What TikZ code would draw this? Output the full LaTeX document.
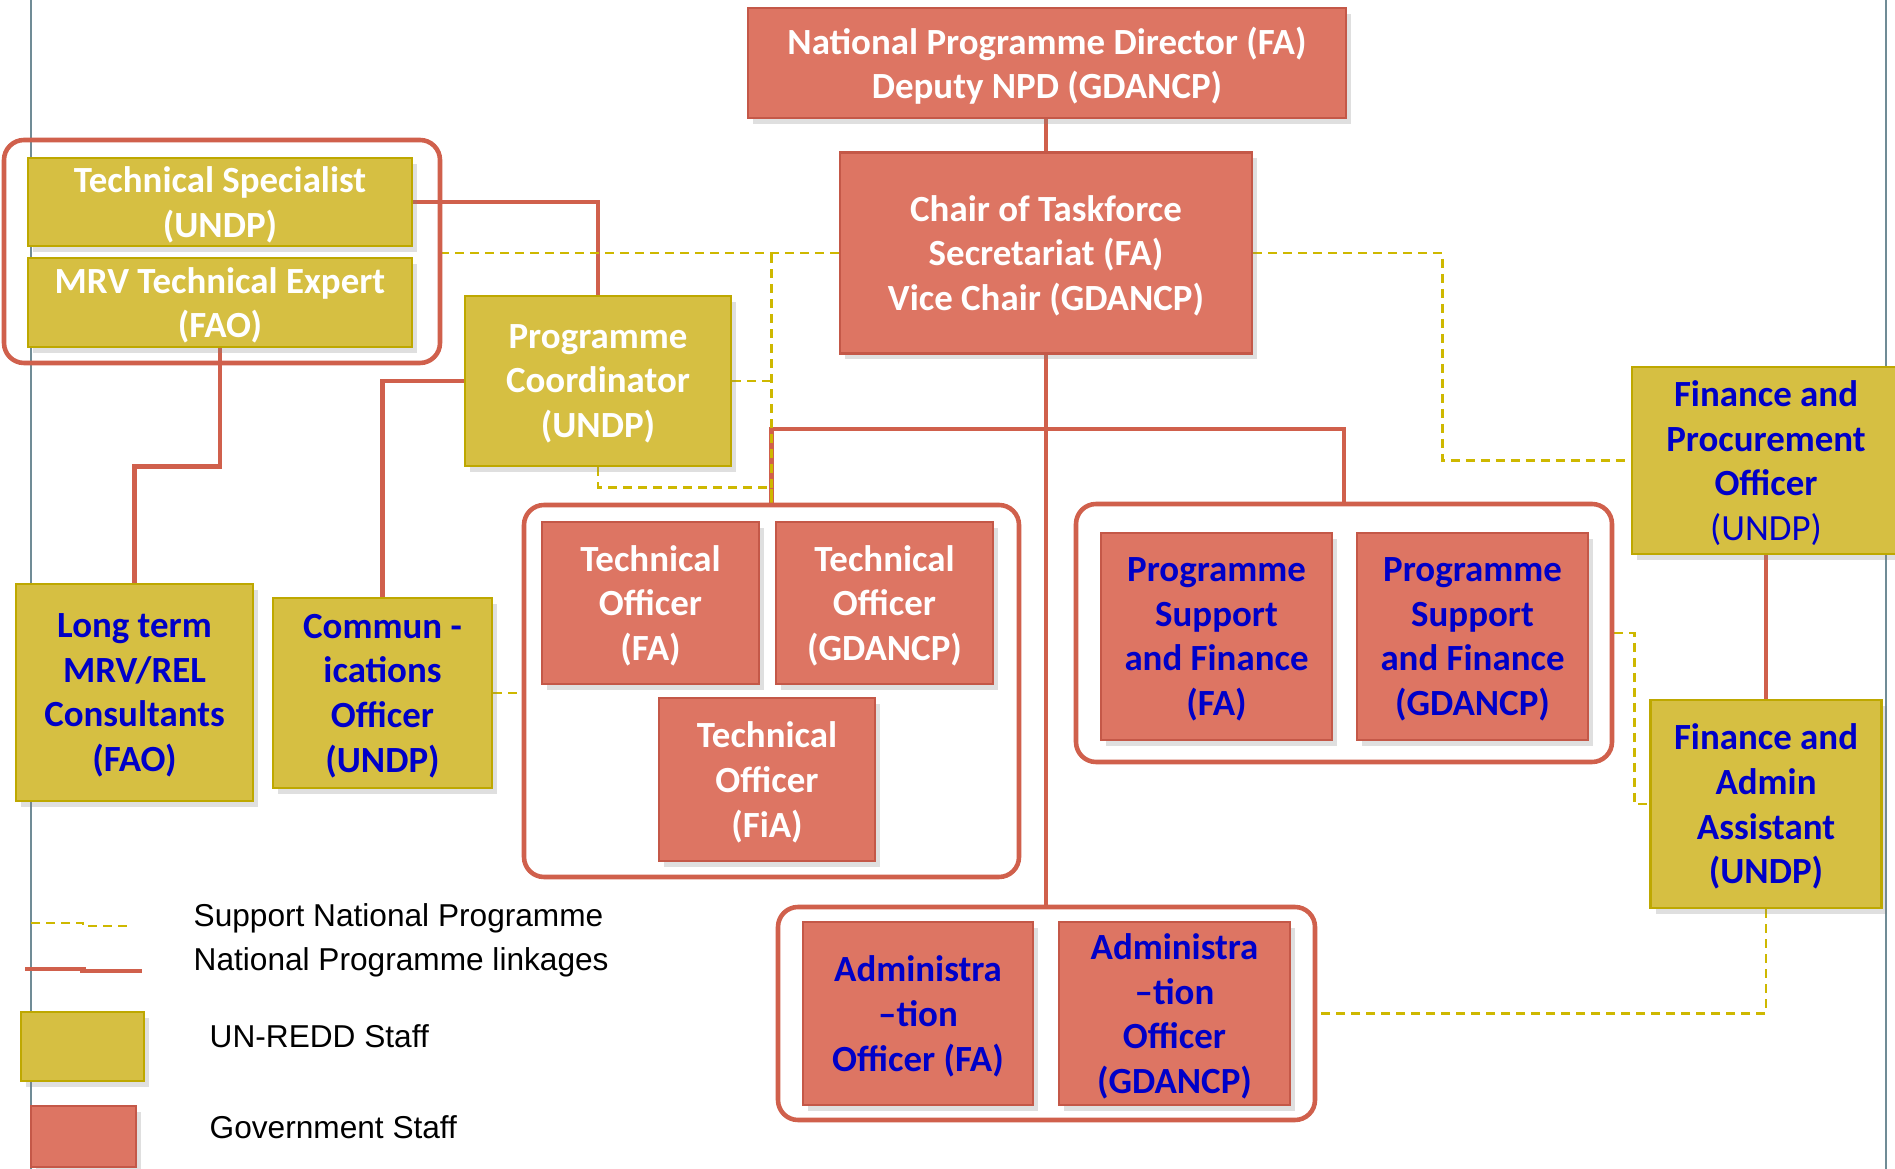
\documentclass[tikz,border=0pt]{standalone}
\usepackage{fontspec}
\setmainfont{Carlito}
\newfontfamily\legendfont{Liberation Sans}
\usetikzlibrary{positioning, shadows, backgrounds}
\definecolor{govfill}{RGB}{221,117,99}
\definecolor{govdraw}{RGB}{196,88,72}
\definecolor{unfill}{RGB}{214,191,66}
\definecolor{undraw}{RGB}{190,168,0}
\definecolor{linkred}{RGB}{208,96,76}
\definecolor{supyel}{RGB}{206,184,0}
\definecolor{txtblue}{RGB}{0,0,200}
\definecolor{slate}{RGB}{112,140,150}

\begin{document}
\begin{tikzpicture}[x=0.1mm, y=-0.1mm, node distance=23.4mm, on grid,
    box/.style={line width=0.8pt, align=center, inner sep=0pt, text=white,
      font=\fontsize{10.5}{12.7}\selectfont\bfseries, text depth=0pt,
      drop shadow={shadow xshift=0.5mm, shadow yshift=-0.6mm, opacity=0.25}},
    gov/.style={box, draw=govdraw, fill=govfill},
    un/.style={box, draw=undraw, fill=unfill},
    bluetxt/.style={text=txtblue},
    grp/.style={draw=linkred, line width=1.3pt, rounded corners=2mm, inner sep=0pt},
    link/.style={draw=linkred, line width=1.4pt},
    support/.style={draw=supyel, line width=0.7pt, dash pattern=on 0.9mm off 0.6mm},
    keytxt/.style={anchor=west, inner sep=0pt, font=\legendfont\fontsize{9}{11}\selectfont}]
  \useasboundingbox (0,0) rectangle (1895,1169);

  \node[gov, minimum width=59.8mm, minimum height=11mm] (npd) at (1047,63)
    {National Programme Director (FA)\\Deputy NPD (GDANCP)};
  \node[gov, minimum width=41.2mm, minimum height=20.1mm] (chair) at (1046,253)
    {Chair of Taskforce\\Secretariat (FA)\\Vice Chair (GDANCP)};

  \node[grp, minimum width=43.6mm, minimum height=22.3mm] (ts_grp) at (222,251.5) {};
  \node[un, minimum width=38.4mm, minimum height=8.8mm] (tspec) at (220,202)
    {Technical Specialist\\(UNDP)};
  \node[un, minimum width=38.4mm, minimum height=8.9mm] (mrv) [below=10.05mm of tspec]
    {MRV Technical Expert\\(FAO)};
  \node[un, minimum width=26.6mm, minimum height=17mm] (pcoord) at (598,381)
    {Programme\\Coordinator\\(UNDP)};
  \node[un, bluetxt, minimum width=23.7mm, minimum height=21.7mm] (lterm) at (134.5,692.5)
    {Long term\\MRV/REL\\Consultants\\(FAO)};
  \node[un, bluetxt, minimum width=21.9mm, minimum height=19mm] (comm) at (382.5,693)
    {Commun -\\ications\\Officer\\(UNDP)};

  \node[grp, minimum width=49.5mm, minimum height=37.2mm] (tech_grp) at (771.5,691) {};
  \node[gov, minimum width=21.7mm, minimum height=16.2mm] (tech_fa) at (650.5,603)
    {Technical\\Officer\\(FA)};
  \node[gov, minimum width=21.7mm, minimum height=16.2mm] (tech_gd) [right=of tech_fa]
    {Technical\\Officer\\(GDANCP)};
  \node[gov, minimum width=21.6mm, minimum height=16.3mm] (tech_fia) at (767,779.5)
    {Technical\\Officer\\(FiA)};

  \node[grp, minimum width=53.6mm, minimum height=25.8mm] (ps_grp) at (1344,633) {};
  \node[gov, bluetxt, minimum width=23.1mm, minimum height=20.7mm] (ps_fa) at (1216.5,636.5)
    {Programme\\Support\\and Finance\\(FA)};
  \node[gov, bluetxt, minimum width=23.1mm, minimum height=20.7mm] (ps_gd) [right=25.6mm of ps_fa]
    {Programme\\Support\\and Finance\\(GDANCP)};

  \node[un, bluetxt, minimum width=26.8mm, minimum height=18.7mm] (fpo) at (1766,460.5)
    {Finance and\\Procurement\\Officer\\\textmd{(UNDP)}};
  \node[un, bluetxt, minimum width=23.1mm, minimum height=20.8mm] (faa) [below=34.35mm of fpo]
    {Finance and\\Admin\\Assistant\\(UNDP)};

  \node[grp, minimum width=53.7mm, minimum height=21.3mm] (adm_grp) at (1046.5,1013.5) {};
  \node[gov, bluetxt, minimum width=23mm, minimum height=18.3mm] (adm_fa) at (918,1013.5)
    {Administra\\–tion\\Officer (FA)};
  \node[gov, bluetxt, minimum width=23.1mm, minimum height=18.3mm] (adm_gd) [right=25.65mm of adm_fa]
    {Administra\\–tion\\Officer\\(GDANCP)};

  \node[un, minimum width=12.3mm, minimum height=6.9mm] (key_un) at (82.5,1046.5) {};
  \node[gov, minimum width=10.5mm, minimum height=6.1mm] (key_gov) at (83.5,1136.5) {};
  \node[keytxt] (key_sup_txt) at (193,918) {Support National Programme};
  \node[keytxt] (key_link_txt) at (193,962) {National Programme linkages};
  \node[keytxt] (key_un_txt) at (209,1036) {UN-REDD Staff};
  \node[keytxt] (key_gov_txt) at (209,1127) {Government Staff};

  \begin{scope}[on background layer]
    \fill[white] (0,0) rectangle (1895,1169);
    \draw[slate, line width=0.5pt] (31,0) -- (31,1169) (1886,0) -- (1886,1169);
    \coordinate (fork) at (1046,429);
    \path[link] (chair.north |- npd.south) -- (chair.north)
      (chair.south) -- (chair.south |- adm_grp.north)
      (tech_grp.north) |- (fork) -| (ps_grp.north)
      (tspec.east) -| (pcoord.north)
      (mrv.south) -- ++(0,118) -| (lterm.north)
      (pcoord.west) -| (comm.north)
      (fpo.south) -- (faa.north);
    \path[support] (chair.west) -- (chair.west -| ts_grp.east)
      (tech_grp.north) -- (tech_grp.north |- chair.west)
      (pcoord.east) -- (pcoord.east -| tech_grp.north)
      (pcoord.south) -- ++(0,20) -| (tech_grp.north)
      (comm.east) -- (comm.east -| tech_grp.west)
      (chair.east) -- ++(189,0) |- (fpo.west)
      (ps_grp.east) -- ++(20,0) |- (faa.west)
      (faa.south) |- (adm_grp.east);
    \draw[support] (31,923) -- (83,923) -- (83,926) -- (132,926);
    \draw[link] (25,969) -- (86,969) (80,971) -- (142,971);
  \end{scope}
\end{tikzpicture}
\end{document}
